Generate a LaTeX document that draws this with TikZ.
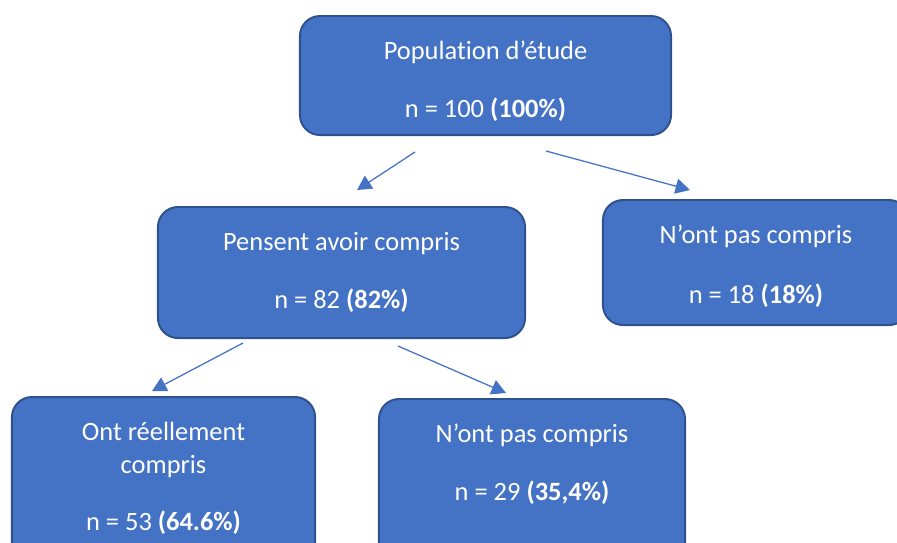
\documentclass[tikz,border=0pt]{standalone}
\usepackage{fontspec}
\setmainfont{Carlito}[Ligatures=NoCommon]
\usetikzlibrary{arrows.meta}
\definecolor{boxblue}{HTML}{4472C4}
\definecolor{boxedge}{HTML}{2F528F}
\tikzstyle{box}=[draw=boxedge, line width=1.4pt, fill=boxblue, rounded corners=5mm, text=white, align=center, anchor=north, outer sep=0pt, inner xsep=2mm, inner ysep=0pt, font=\fontsize{18.8pt}{23.4pt}\selectfont]
\tikzstyle{arr}=[draw=boxblue, line width=0.9pt, -{Triangle[length=3.6mm,width=3.8mm]}]

\begin{document}
\begin{tikzpicture}[x=0.025cm,y=-0.025cm]
\useasboundingbox (0,0) rectangle (897,542);
\clip (0,0) rectangle (897,542);

\node[box, minimum width=92.75mm, text height=25.25mm, text depth=4.5mm] (etude) at (485.5,16) {Population d’étude\\[6.25mm] n = 100 \textbf{(100\%)}};%top
\node[box, minimum width=91.75mm, text height=25.25mm, text depth=7.5mm] (pensent) at (341.5,207) {Pensent avoir compris\\[6.25mm] n = 82 \textbf{(82\%)}};
\node[box, minimum width=76.5mm, text height=25.75mm, text depth=5.5mm] (paspop) at (756,200) {N’ont pas compris\\[6.75mm] n = 18 \textbf{(18\%)}};
\node[box, minimum width=75.75mm, text height=33.25mm, text depth=11.25mm] (reel) at (163.5,397) {Ont réellement\\ compris\\[6mm] n = 53 \textbf{(64.6\%)}};%bottom
\node[box, minimum width=76.5mm, text height=25.25mm, text depth=18.75mm] (pasreel) at (532,399) {N’ont pas compris\\[6.25mm] n = 29 \textbf{(35,4\%)}};%bottom

%arrows, they do not touch the boxes
\coordinate (a1) at (415,152); \coordinate (b1) at (357,190);
\coordinate (a2) at (546,151); \coordinate (b2) at (690,190);
\coordinate (a3) at (243,343); \coordinate (b3) at (152,391);
\coordinate (a4) at (398,346); \coordinate (b4) at (506,393);
\draw[arr] (a1) -- (b1);
\draw[arr] (a2) -- (b2);
\draw[arr] (a3) -- (b3);
\draw[arr] (a4) -- (b4);
\end{tikzpicture}
\end{document}
